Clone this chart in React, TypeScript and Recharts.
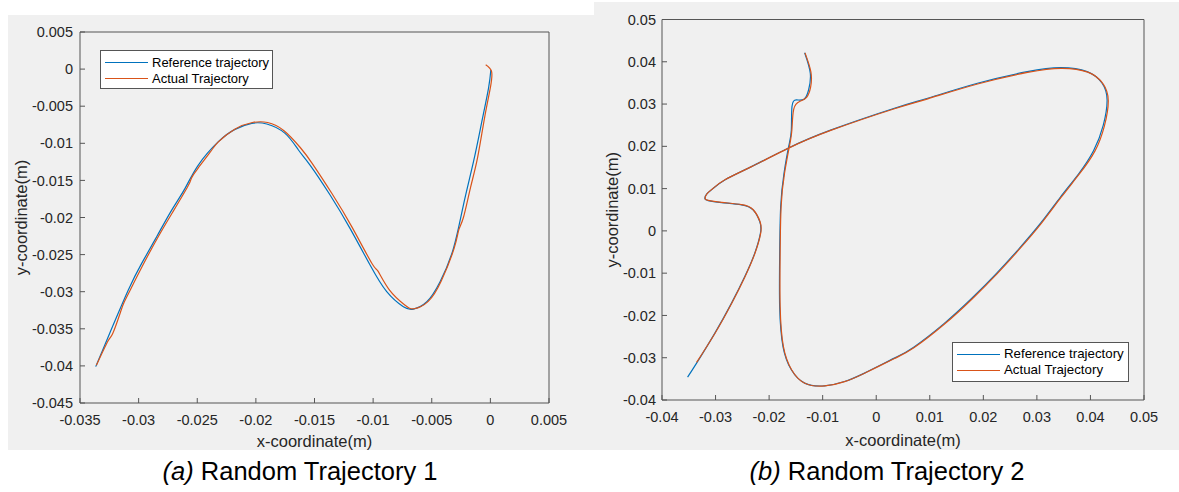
import React from 'react';
import { LineChart, Line, XAxis, YAxis, Legend } from 'recharts';

// ---------- Data: Random Trajectory 1 ----------
const refX1 = [-0.03366, -0.03259, -0.03088, -0.02974, -0.02846, -0.02718, -0.02604, -0.02491, -0.0232, -0.02178, -0.02035, -0.01907, -0.01751, -0.01637, -0.01538, -0.01367, -0.01197, -0.01026, -0.00884, -0.00742, -0.00656, -0.00542, -0.00429, -0.00315, -0.0023, -0.00144, -0.00073, -0.00016, 0.00004];
const refY1 = [-0.0401, -0.03607, -0.02978, -0.02618, -0.02259, -0.019, -0.01607, -0.01293, -0.00978, -0.00812, -0.00731, -0.0074, -0.00866, -0.0109, -0.01293, -0.01697, -0.02146, -0.02641, -0.03, -0.03203, -0.03234, -0.03135, -0.02866, -0.02416, -0.01832, -0.01248, -0.00709, -0.00259, -0.00012];
const actX1 = [-0.0336, -0.0326, -0.0322, -0.0316, -0.0312, -0.0305, -0.0297, -0.0284, -0.0271, -0.0258, -0.0255, -0.025, -0.0239, -0.0232, -0.0218, -0.0203, -0.019, -0.0176, -0.0162, -0.0152, -0.0135, -0.0118, -0.0101, -0.0096, -0.0086, -0.0073, -0.0065, -0.0053, -0.0042, -0.0031, -0.0027, -0.0023, -0.0017, -0.0011, -0.0005, 0.0, 0.0001, -0.0004];
const actY1 = [-0.0399, -0.0366, -0.0356, -0.033, -0.0313, -0.0291, -0.0266, -0.0228, -0.0193, -0.0158, -0.0147, -0.0135, -0.0112, -0.0098, -0.0081, -0.0072, -0.0072, -0.0083, -0.0106, -0.0127, -0.0168, -0.0213, -0.0262, -0.0272, -0.0298, -0.0318, -0.0323, -0.0313, -0.0286, -0.0242, -0.0217, -0.02, -0.016, -0.012, -0.0066, -0.0025, -0.0003, 0.0006];
const xTicks1 = [-0.035, -0.03, -0.025, -0.02, -0.015, -0.01, -0.005, 0, 0.005];
const yTicks1 = [-0.045, -0.04, -0.035, -0.03, -0.025, -0.02, -0.015, -0.01, -0.005, 0, 0.005];

// ---------- Data: Random Trajectory 2 ----------
const refX2 = [-0.03522, -0.03354, -0.03013, -0.02702, -0.02454, -0.02268, -0.02162, -0.02175, -0.023, -0.02516, -0.02888, -0.03138, -0.032, -0.0316, -0.0305, -0.02827, -0.0233, -0.01648, -0.0084, 0.00339, 0.00959, 0.0189, 0.02821, 0.03443, 0.03938, 0.04218, 0.04311, 0.0424, 0.0406, 0.0378, 0.0344, 0.0308, 0.0268, 0.0225, 0.0178, 0.0126, 0.007, 0.00339, -0.0022, -0.00592, -0.00965, -0.01337, -0.01585, -0.01741, -0.01803, -0.01803, -0.01784, -0.01722, -0.01635, -0.01585, -0.01573, -0.01492, -0.0135, -0.01263, -0.01231, -0.01337];
const refY2 = [-0.03459, -0.03128, -0.02418, -0.01709, -0.0108, -0.00527, -0.00054, 0.0022, 0.00496, 0.00615, 0.00669, 0.00716, 0.0077, 0.0088, 0.01, 0.01206, 0.0152, 0.01955, 0.02388, 0.029, 0.03137, 0.03492, 0.03766, 0.0386, 0.03766, 0.03492, 0.03097, 0.025, 0.019, 0.0135, 0.008, 0.002, -0.004, -0.01, -0.016, -0.022, -0.0275, -0.0301, -0.03364, -0.03563, -0.03664, -0.036, -0.03286, -0.02735, -0.0179, -0.00608, 0.00575, 0.01364, 0.01993, 0.02388, 0.02939, 0.03097, 0.03113, 0.03333, 0.03728, 0.04215];
const actX2 = [-0.03354, -0.0301, -0.02698, -0.0245, -0.02264, -0.02157, -0.0217, -0.02296, -0.02512, -0.02884, -0.03134, -0.03196, -0.03157, -0.03048, -0.02825, -0.02328, -0.01646, -0.00838, 0.00341, 0.00962, 0.01893, 0.02825, 0.0345, 0.0395, 0.04236, 0.04333, 0.0426, 0.0408, 0.0379, 0.0345, 0.0309, 0.0269, 0.0226, 0.0179, 0.0127, 0.0071, 0.0034, -0.00218, -0.0059, -0.00962, -0.01332, -0.01578, -0.01733, -0.01794, -0.01795, -0.01776, -0.01712, -0.01622, -0.01575, -0.0154, -0.0143, -0.013, -0.01225, -0.0122, -0.0133];
const actY2 = [-0.0311, -0.0242, -0.0171, -0.01082, -0.00528, -0.00054, 0.00222, 0.005, 0.0062, 0.00674, 0.00722, 0.00775, 0.00884, 0.01004, 0.01208, 0.0152, 0.01952, 0.02382, 0.0289, 0.03124, 0.03474, 0.03748, 0.03846, 0.03755, 0.03478, 0.0308, 0.0248, 0.0188, 0.0134, 0.0079, 0.0019, -0.0041, -0.0101, -0.0161, -0.0221, -0.0276, -0.0302, -0.03366, -0.03566, -0.03668, -0.03604, -0.0329, -0.02738, -0.01792, -0.00608, 0.00575, 0.01364, 0.01993, 0.02388, 0.0288, 0.0306, 0.0316, 0.034, 0.0376, 0.0421];
const xTicks2 = [-0.04, -0.03, -0.02, -0.01, 0, 0.01, 0.02, 0.03, 0.04, 0.05];
const yTicks2 = [-0.04, -0.03, -0.02, -0.01, 0, 0.01, 0.02, 0.03, 0.04, 0.05];

const seriesNames = ['Reference trajectory', 'Actual Trajectory'];
const seriesColors = ['#0072BD', '#D95319'];
const captions = ['Random Trajectory 1', 'Random Trajectory 2'];
const captionTags = ['(a)', '(b)'];

const zip = (xs: number[], ys: number[]) => xs.map((x, i) => ({ x, y: ys[i] }));

const FONT = '"Liberation Sans", Arial, Helvetica, sans-serif';
const AXIS = '#555555';
const TEXT = '#262626';

const makeLegend = (fontSize: number) => (props: any) => {
  const payload = [...(props.payload || [])].sort(
    (a: any, b: any) => seriesNames.indexOf(a.value) - seriesNames.indexOf(b.value)
  );
  return (
    <div
      style={{
        boxSizing: 'border-box',
        width: '100%',
        height: '100%',
        background: '#fff',
        border: '1px solid #555',
        padding: '3px 4px',
        fontFamily: FONT,
        fontSize: `${fontSize}px`,
        lineHeight: 1,
        color: '#000',
        textAlign: 'left',
      }}
    >
      {payload.map((p: any) => (
        <div key={p.value} style={{ display: 'flex', alignItems: 'center', height: 16 }}>
          <div style={{ width: 43, height: 0, borderTop: `1.2px solid ${p.color}`, marginRight: 4, flex: 'none' }} />
          <span style={{ whiteSpace: 'nowrap', fontSize: `${fontSize}px` }}>{p.value}</span>
        </div>
      ))}
    </div>
  );
};

type PanelProps = {
  width: number;
  height: number;
  top: number;
  bottom: number;
  left: number;
  right: number;
  xTicks: number[];
  yTicks: number[];
  refData: { x: number; y: number }[];
  actData: { x: number; y: number }[];
  xMargin: number;
  yMargin: number;
  yLabelOffset: number;
  xLabelOffset: number;
  legendStyle: React.CSSProperties;
  legendFont: number;
};

function Panel(p: PanelProps) {
  const xDom: [number, number] = [p.xTicks[0], p.xTicks[p.xTicks.length - 1]];
  const yDom: [number, number] = [p.yTicks[0], p.yTicks[p.yTicks.length - 1]];
  const tickStyle = { fontSize: 14.5, fill: TEXT, fontFamily: FONT };
  const labelStyle = { fontSize: 16.5, fill: TEXT, fontFamily: FONT };
  return (
    <LineChart width={p.width} height={p.height} margin={{ top: 0, right: 0, bottom: 0, left: 0 }}>
      <XAxis
        xAxisId="b"
        type="number"
        dataKey="x"
        domain={xDom}
        ticks={p.xTicks}
        allowDataOverflow
        height={p.bottom}
        orientation="bottom"
        stroke={AXIS}
        tickSize={-5}
        tickMargin={p.xMargin}
        tick={tickStyle}
        fontSize={14.5}
        fontFamily={FONT}
        tickFormatter={(v: number) => String(v)}
        interval={0}
        label={{ value: 'x-coordinate(m)', position: 'insideBottom', offset: p.xLabelOffset, fontSize: 16.5, style: labelStyle }}
      />
      <XAxis
        xAxisId="t"
        type="number"
        dataKey="x"
        domain={xDom}
        ticks={p.xTicks}
        allowDataOverflow
        height={p.top}
        orientation="top"
        stroke={AXIS}
        tickSize={-5}
        tick={false}
        interval={0}
      />
      <YAxis
        yAxisId="l"
        type="number"
        dataKey="y"
        domain={yDom}
        ticks={p.yTicks}
        allowDataOverflow
        width={p.left}
        orientation="left"
        stroke={AXIS}
        tickSize={-5}
        tickMargin={p.yMargin}
        tick={tickStyle}
        fontSize={14.5}
        fontFamily={FONT}
        tickFormatter={(v: number) => String(v)}
        interval={0}
        label={{ value: 'y-coordinate(m)', angle: -90, position: 'insideLeft', offset: p.yLabelOffset, fontSize: 16.5, style: { ...labelStyle, textAnchor: 'middle' } }}
      />
      <YAxis
        yAxisId="r"
        type="number"
        dataKey="y"
        domain={yDom}
        ticks={p.yTicks}
        allowDataOverflow
        width={p.right}
        orientation="right"
        stroke={AXIS}
        tickSize={-5}
        tick={false}
        interval={0}
      />
      <Legend
        layout="horizontal"
        verticalAlign="middle"
        align="center"
        content={makeLegend(p.legendFont)}
        wrapperStyle={p.legendStyle}
      />
      <Line
        xAxisId="b"
        yAxisId="l"
        data={p.refData}
        dataKey="y"
        name={seriesNames[0]}
        type="natural"
        stroke={seriesColors[0]}
        strokeWidth={1.2}
        dot={false}
        activeDot={false}
        isAnimationActive={false}
      />
      <Line
        xAxisId="b"
        yAxisId="l"
        data={p.actData}
        dataKey="y"
        name={seriesNames[1]}
        type="natural"
        stroke={seriesColors[1]}
        strokeWidth={1.2}
        dot={false}
        activeDot={false}
        isAnimationActive={false}
      />
    </LineChart>
  );
}

const captionStyle: React.CSSProperties = {
  position: 'absolute',
  top: 457,
  width: 400,
  textAlign: 'center',
  fontFamily: FONT,
  fontSize: 25.5,
  color: '#000',
  whiteSpace: 'nowrap',
};

export default function App() {
  return (
    <div style={{ position: 'fixed', left: 0, top: 0, width: 1179, height: 492, background: '#fff', overflow: 'hidden' }}>
      <div style={{ position: 'absolute', left: 8, top: 15, width: 586, height: 435, background: '#F0F0F0' }}>
        <Panel
          width={586}
          height={435}
          top={17}
          bottom={47}
          left={72}
          right={45}
          xTicks={xTicks1}
          yTicks={yTicks1}
          refData={zip(refX1, refY1)}
          actData={zip(actX1, actY1)}
          xMargin={17}
          yMargin={12}
          yLabelOffset={13}
          xLabelOffset={3}
          legendStyle={{ position: 'absolute', left: 92, top: 35, width: 173, height: 39, bottom: 'auto', right: 'auto' }}
          legendFont={13}
        />
      </div>
      <div style={{ position: 'absolute', left: 594, top: 2, width: 585, height: 448, background: '#F0F0F0' }}>
        <Panel
          width={585}
          height={448}
          top={17.5}
          bottom={50}
          left={68}
          right={35}
          xTicks={xTicks2}
          yTicks={yTicks2}
          refData={zip(refX2, refY2)}
          actData={zip(actX2, actY2)}
          xMargin={17}
          yMargin={11}
          yLabelOffset={18}
          xLabelOffset={4}
          legendStyle={{ position: 'absolute', left: 358, top: 340, width: 177, height: 40, bottom: 'auto', right: 'auto' }}
          legendFont={13.3}
        />
      </div>
      <div style={{ ...captionStyle, left: 100 }}>
        <i>{captionTags[0]}</i> {captions[0]}
      </div>
      <div style={{ ...captionStyle, left: 687 }}>
        <i>{captionTags[1]}</i> {captions[1]}
      </div>
    </div>
  );
}
